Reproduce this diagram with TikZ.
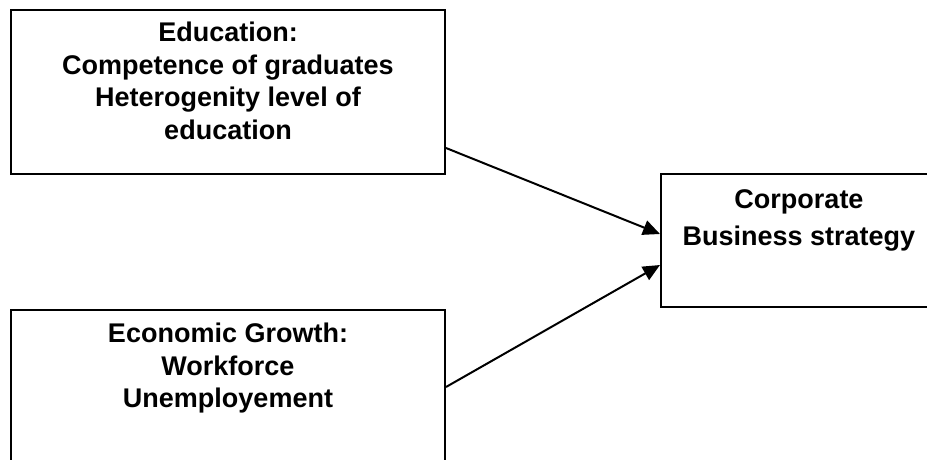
\documentclass[tikz,border=0pt]{standalone}
\usepackage{fontspec}
\setmainfont{Liberation Sans}
\usetikzlibrary{arrows.meta}
\tikzset{
  boxframe/.style={draw, line width=2pt, inner sep=0pt, anchor=north west},
  boxtext/.style={align=center, inner sep=0pt, anchor=north, font=\bfseries\fontsize{27}{32.5}\selectfont},
  boxtextwide/.style={boxtext, font=\bfseries\fontsize{27}{37}\selectfont},
  link/.style={line width=2pt, -{Triangle[length=17pt,width=15pt]}}
}
\begin{document}
\begin{tikzpicture}[x=1pt,y=-1pt]
\useasboundingbox (0,0) rectangle (927,459);
\clip (0,0) rectangle (927,459);
\fill[white] (0,0) rectangle (927,459);
% boxes
\node[boxframe, minimum width=434pt, minimum height=164pt] (edu) at (10,9) {};
\node[boxframe, minimum width=434pt, minimum height=170pt] (eco) at (10,309) {};
\node[boxframe, minimum width=290pt, minimum height=133pt] (corp) at (660,173) {};
% texts
\node[boxtext] (edut) at (228,22) {Education:\\Competence of graduates\\Heterogenity level of\\education};
\node[boxtext] (ecot) at (228,323) {Economic Growth:\\Workforce\\Unemployement};
\node[boxtextwide] (corpt) at (799,189) {Corporate\\Business strategy};
% connectors
\draw[link] ([yshift=-56pt]edu.east) -- ([yshift=6.5pt]corp.west);
\draw[link] (eco.east |- 0,387) -- ([yshift=-24.5pt]corp.west);
\end{tikzpicture}
\end{document}
